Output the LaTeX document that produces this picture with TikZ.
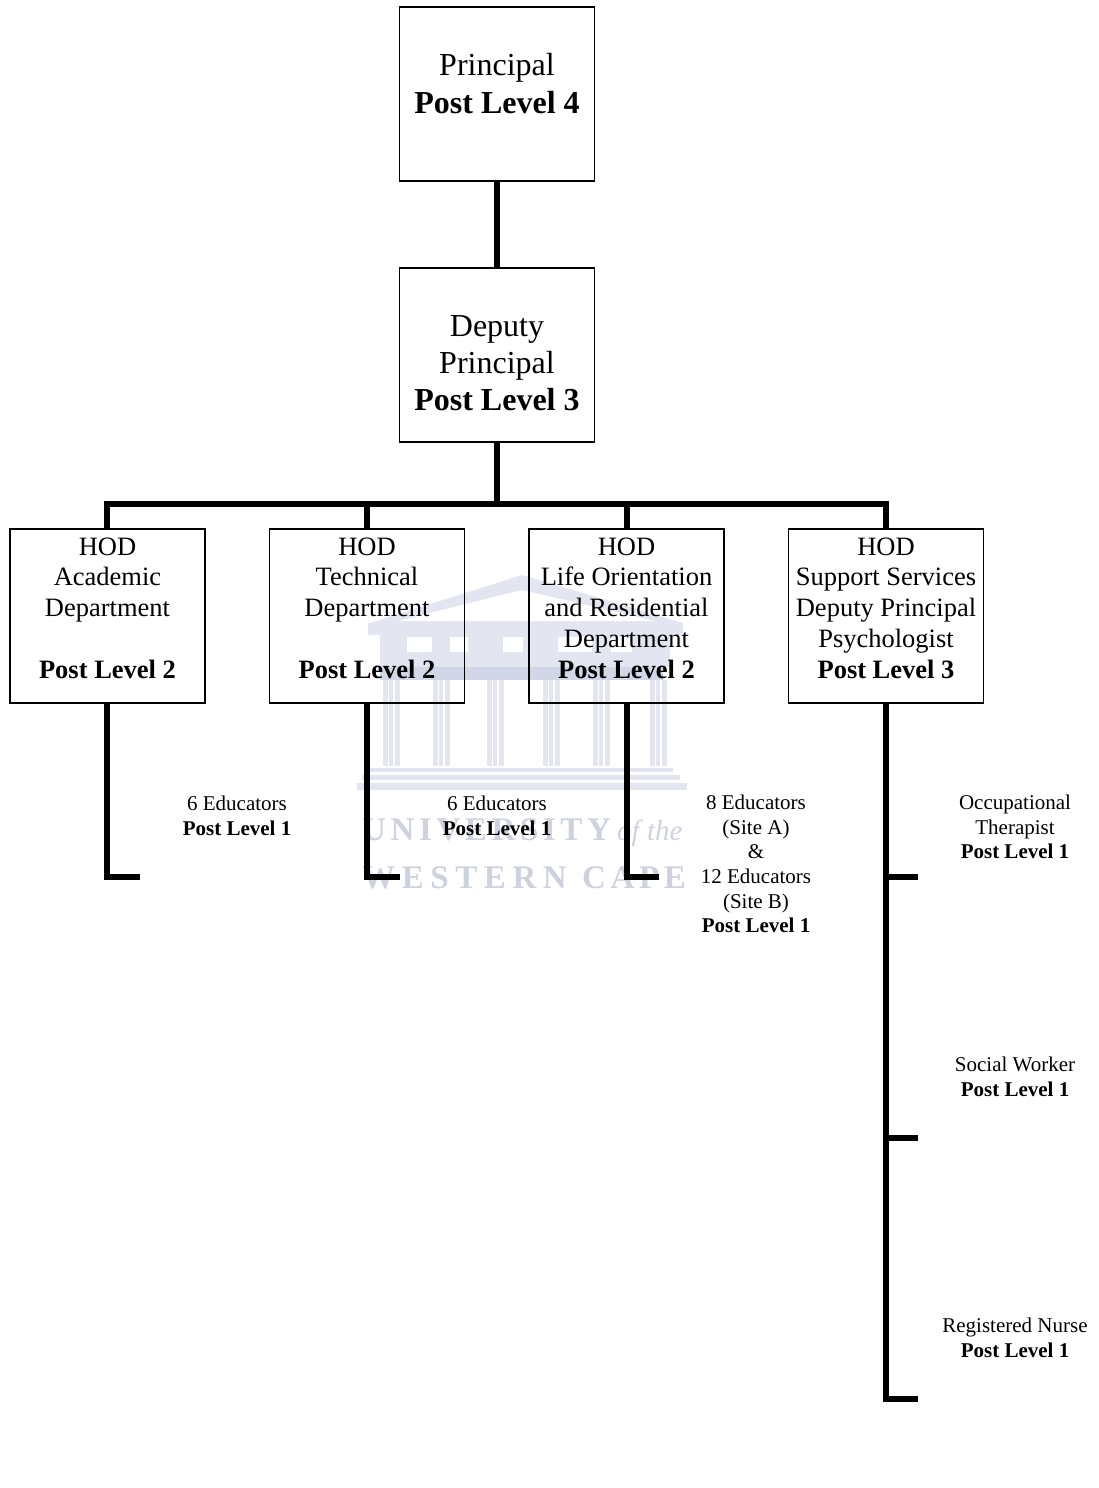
\documentclass[tikz,border=0pt]{standalone}
\usepackage{fontspec}
\setmainfont{Liberation Serif}
\newfontfamily\markfont[LetterSpace=14]{Liberation Serif}
\newfontfamily\markwide[LetterSpace=20]{Liberation Serif}
\definecolor{marklight}{RGB}{227,230,240}
\definecolor{markdark}{RGB}{210,215,232}
\definecolor{marktone}{RGB}{206,210,223}
\tikzset{
  wallbox/.style={draw=black, line width=1.8pt, inner xsep=0pt, inner ysep=0pt, align=center, minimum width=195pt},
  topbox/.style={wallbox, minimum height=174pt, font=\fontsize{32}{37}\selectfont},
  hodbox/.style={wallbox, minimum height=174pt, text height=149pt, text depth=25pt, font=\fontsize{26.5}{30.7}\selectfont},
  smalltext/.style={align=center, inner sep=0pt, font=\fontsize{21}{24.7}\selectfont},
  markpart/.style={fill=marklight, draw=none},
  marktext/.style={inner sep=0pt, text=marktone, anchor=base west},
  link/.style={draw=black, line width=5.5pt, line join=miter}
}
\begin{document}
\begin{tikzpicture}[x=1pt, y=-1pt]
\useasboundingbox (0,0) rectangle (1098,1488);
\fill[markpart] (370,623) -- (522,575) -- (683,623) -- cycle;
\fill[white] (398,621) -- (522,590) -- (655,621) -- cycle;
\fill[markpart] (368,623) rectangle (683,635);
\fill[markpart] (380,635) rectangle (670,667);
\fill[white] (407,637) rectangle (432,652);
\fill[white] (450,637) rectangle (468,652);
\fill[white] (503,637) rectangle (523,652);
\fill[white] (558,637) rectangle (592,652);
\fill[white] (611,637) rectangle (632,652);
\fill[markdark] (380,667) rectangle (663,680);
\foreach \colx in {383,433,487,543,593,650} {
  \fill[markpart] (\colx,680) rectangle ++(5,86);
  \fill[markpart] (\colx+6,680) rectangle ++(4,86);
  \fill[markpart] (\colx+12,680) rectangle ++(5,86);
}
\fill[markpart] (368,768) rectangle (673,772);
\fill[markpart] (362,775) rectangle (680,780);
\fill[markpart] (357,783) rectangle (687,790);
\node[marktext, font=\fontsize{33}{38}\markfont\bfseries] (markone) at (362,840) {UNIVERSITY};
\node[marktext, font=\fontsize{29}{32}\itshape] (markof) at (617,840) {of the};
\node[marktext, font=\fontsize{33}{38}\markwide\bfseries] (marktwo) at (362,888) {WESTERN};
\node[marktext, font=\fontsize{33}{38}\markfont\bfseries] (markthree) at (582,888) {CAPE};
\node[topbox, text height=106pt, text depth=68pt] (principal) at (497,94) {Principal\\\textbf{Post Level 4}};
\node[topbox, text height=142pt, text depth=32pt] (deputy) at (497,355) {Deputy\\Principal\\\textbf{Post Level 3}};
\node[hodbox] (hodacademic) at (107.5,616) {HOD\\Academic\\Department\\\mbox{}\\\textbf{Post Level 2}};
\node[hodbox] (hodtechnical) at (367,616) {HOD\\Technical\\Department\\\mbox{}\\\textbf{Post Level 2}};
\node[hodbox] (hodlife) at (626.5,616) {HOD\\Life Orientation\\and Residential\\Department\\\textbf{Post Level 2}};
\node[hodbox] (hodsupport) at (886,616) {HOD\\Support Services\\Deputy Principal\\Psychologist\\\textbf{Post Level 3}};
\node[smalltext] (eduacademic) at (237,815.6) {6 Educators\\\textbf{Post Level 1}};
\node[smalltext] (edutechnical) at (497,815.6) {6 Educators\\\textbf{Post Level 1}};
\node[smalltext] (edulife) at (756,864) {8 Educators\\(Site A)\\\&\\12 Educators\\(Site B)\\\textbf{Post Level 1}};
\node[smalltext] (therapist) at (1015,827) {Occupational\\Therapist\\\textbf{Post Level 1}};
\node[smalltext] (social) at (1015,1076.5) {Social Worker\\\textbf{Post Level 1}};
\node[smalltext] (nurse) at (1015,1338) {Registered Nurse\\\textbf{Post Level 1}};
\coordinate (busmid) at (497,504);
\coordinate (busacademic) at (107,504);
\coordinate (bustechnical) at (367,504);
\coordinate (buslife) at (627,504);
\coordinate (bussupport) at (886,504);
\coordinate (cornacademic) at (107,877);
\coordinate (endacademic) at (140,877);
\coordinate (corntechnical) at (367,877);
\coordinate (endtechnical) at (400,877);
\coordinate (cornlife) at (627,877);
\coordinate (endlife) at (659,877);
\coordinate (cornone) at (886,877);
\coordinate (endone) at (918,877);
\coordinate (corntwo) at (886,1138);
\coordinate (endtwo) at (918,1138);
\coordinate (cornthree) at (886,1399);
\coordinate (endthree) at (918,1399);
\draw[link] (principal.south) -- (deputy.north);
\draw[link] (deputy.south) -- (busmid);
\draw[link] (hodacademic.north -| busacademic) -- (busacademic) -- (bussupport) -- (hodsupport.north -| bussupport);
\draw[link] (bustechnical) -- (hodtechnical.north -| bustechnical);
\draw[link] (buslife) -- (hodlife.north -| buslife);
\draw[link] (hodacademic.south -| cornacademic) -- (cornacademic) -- (endacademic);
\draw[link] (hodtechnical.south -| corntechnical) -- (corntechnical) -- (endtechnical);
\draw[link] (hodlife.south -| cornlife) -- (cornlife) -- (endlife);
\draw[link] (hodsupport.south -| cornthree) -- (cornthree) -- (endthree);
\draw[link] (cornone) -- (endone);
\draw[link] (corntwo) -- (endtwo);
\end{tikzpicture}
\end{document}
